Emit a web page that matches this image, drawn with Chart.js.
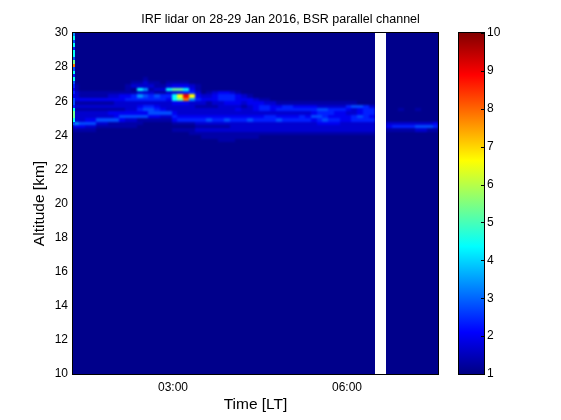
<!DOCTYPE html>
<html>
<head>
<meta charset="utf-8">
<script src="https://cdn.jsdelivr.net/npm/chart.js@4.4.1/dist/chart.umd.min.js"></script>
<style>
  html, body { margin: 0; padding: 0; background: #fff; }
  #wrap { width: 561px; height: 420px; }
</style>
</head>
<body>
<div id="wrap"><canvas id="chart" width="561" height="420"></canvas></div>
<script>
// Time axis (hours LT): one lidar profile every 6 min from 01:16.6
const firstProfile = 1 + 16.6 / 60;
const profileStep = 0.1;
const timeMin = firstProfile;
const timeMax = 7 + 34.1 / 60;
const timeTicks = [3, 6];

// Altitude axis (km)
const altMin = 10;
const altMax = 30;
const altStep = 2;

// Colour scale (BSR)
const bsrMin = 1;
const bsrMax = 10;
const backgroundBsr = 1.1;

// BSR level codes used in the rows below
const levelCodes = ['1', '2', '3', '4', '5', '6', '7', '8', '9', 'o', 'r'];
const levelValues = [1.35, 1.7, 2.0, 2.4, 2.8, 3.4, 4.4, 5.3, 6.6, 7.8, 9.0];

// Layer region: 0.2 km bins from 27.4 km (top row) down to 23.4 km.
// One character per profile, '.' = background, ' ' = no data.
const binTop = 27.4;
const binSize = 0.2;
const bsrRows = [
  "....|....|...|.1..|..|....|...|.....|.....|......|......|......|  |.....|....",
  "....|....|..1|1211|.1|111.|...|.....|.....|......|......|......|  |.....|....",
  "1...|....|.12|2221|12|3332|1..|.....|.....|......|......|......|  |.....|....",
  "1...|....|.1.|7612|27|8873|1..|.....|.....|......|......|......|  |.....|....",
  "2111|1111|111|2221|12|2344|2.1|23321|.....|......|......|......|  |.....|....",
  "2111|1122|334|6545|44|79r9|322|34443|21...|......|......|......|  |.....|....",
  "3333|3333|344|4444|43|78o6|433|34443|33211|......|......|......|  |.....|....",
  "1111|1112|222|2222|22|3332|221|22333|23332|211111|111111|111...|  |.....|....",
  "2222|2222|222|3443|22|2222|111|12222|12344|334433|332222|245542|  |.....|....",
  "1111|1111|122|4554|32|2222|222|22223|22344|344444|445544|432344|  |..1..|1...",
  "2222|2233|333|3355|55|3222|222|22222|22222|222222|234443|322344|  |.....|....",
  "2222|2223|555|5533|22|4333|333|33333|33334|433334|355433|334543|  |.....|....",
  "2233|5555|322|1111|11|3444|445|44544|45444|454444|434544|334444|  |.....|....",
  "6555|2211|111|1...|..|1111|222|22222|22222|222222|223333|222222|  |22222|2223",
  "3322|1111|111|....|..|....|111|11122|22222|222222|222222|222222|  |34444|5554",
  "1111|....|...|....|..|1111|222|22222|22222|222222|222222|222222|  |11111|2211",
  "....|....|...|....|..|...1|111|11111|11111|111111|111111|111111|  |.....|....",
  "....|....|...|....|..|....|.11|11111|111..|......|......|......|  |.....|....",
  "....|....|...|....|..|....|...|.111.|.....|......|......|......|  |.....|....",
  "....|....|...|....|..|....|...|.....|.....|......|......|......|  |.....|....",
].map(r => r.replace(/\|/g, ''));

// First (noisy) profile, 0.2 km bins from 30 km down to 24.6 km
const edgeTop = 30;
const edgeSpan = 0.04;
const edgeRow = "675747758o57475434355478875";

const FONT = '"Liberation Sans", Arial, Helvetica, sans-serif';

function jet(v) {
  const t = Math.min(1, Math.max(0, (v - bsrMin) / (bsrMax - bsrMin)));
  const c = k => Math.round(255 * Math.min(1, Math.max(0, 1.5 - Math.abs(4 * t - k))));
  return `rgb(${c(3)},${c(2)},${c(1)})`;
}

function levelOf(ch) {
  const i = levelCodes.indexOf(ch);
  return i < 0 ? backgroundBsr : levelValues[i];
}

function hhmm(v) {
  const h = Math.floor(v);
  const m = Math.round((v - h) * 60);
  return String(h).padStart(2, '0') + ':' + String(m).padStart(2, '0');
}

// contiguous runs of profiles (split by the data gap)
function profileRuns() {
  const runs = [];
  let start = null;
  for (let i = 0; i <= bsrRows[0].length; i++) {
    const has = i < bsrRows[0].length && bsrRows[0][i] !== ' ';
    if (has && start === null) start = i;
    if (!has && start !== null) { runs.push([start, i]); start = null; }
  }
  return runs;
}

// Draw the profiles as cells through the x / y scales
// (painted off-screen, then softened a little like the original image).
const heatmap = {
  id: 'heatmap',
  beforeDatasetsDraw(chart) {
    const {ctx, chartArea: a, scales: {x, y}} = chart;
    const px = t => Math.round(x.getPixelForValue(t));
    const py = h => Math.round(y.getPixelForValue(h));
    const yTop = py(altMax);
    const yBottom = py(altMin);

    const off = document.createElement('canvas');
    off.width = chart.width;
    off.height = chart.height;
    const oc = off.getContext('2d');

    profileRuns().forEach(([i0, i1]) => {
      const left = Math.max(a.left, px(firstProfile + i0 * profileStep));
      const right = Math.min(a.right, px(firstProfile + i1 * profileStep));

      oc.clearRect(0, 0, off.width, off.height);
      oc.fillStyle = jet(backgroundBsr);
      oc.fillRect(left - 4, yTop - 4, right - left + 8, yBottom - yTop + 8);
      for (let i = i0; i < i1; i++) {
        const t0 = firstProfile + i * profileStep;
        const x0 = px(t0);
        const x1 = px(t0 + profileStep);
        bsrRows.forEach((row, k) => {
          const ch = row[i];
          if (ch === '.' || ch === ' ' || ch === undefined) return;
          const hi = binTop - k * binSize;
          const y0 = py(hi);
          const y1 = py(hi - binSize);
          oc.fillStyle = jet(levelOf(ch));
          oc.fillRect(x0, y0, x1 - x0, y1 - y0);
        });
      }

      ctx.save();
      ctx.beginPath();
      ctx.rect(left, a.top, right - left, a.bottom - a.top);
      ctx.clip();
      ctx.filter = 'blur(0.8px)';
      ctx.drawImage(off, 0, 0);
      ctx.filter = 'none';

      // first profile
      if (i0 === 0) {
        const ex0 = px(firstProfile);
        const ex1 = px(firstProfile + edgeSpan);
        [...edgeRow].forEach((ch, k) => {
          const hi = edgeTop - k * binSize;
          ctx.fillStyle = jet(levelOf(ch));
          ctx.fillRect(ex0, py(hi), ex1 - ex0, py(hi - binSize) - py(hi));
        });
      }
      ctx.restore();
    });
  },
  afterDraw(chart) {
    const {ctx, chartArea: a} = chart;
    ctx.save();
    ctx.strokeStyle = '#000';
    ctx.lineWidth = 1;
    ctx.strokeRect(a.left - 0.5, a.top - 0.5, a.right - a.left + 1, a.bottom - a.top + 1);
    ctx.restore();
  }
};

// Colour bar drawn along the 'cb' scale.
const colorbar = {
  id: 'colorbar',
  afterDraw(chart) {
    const {ctx} = chart;
    const cb = chart.scales.cb;
    const top = Math.round(cb.getPixelForValue(bsrMax)) - 1;
    const bottom = Math.round(cb.getPixelForValue(bsrMin)) + 1;
    const left = Math.round(cb.left) + 20;
    const right = left + 27;

    const grad = ctx.createLinearGradient(0, bottom, 0, top);
    [0, 0.125, 0.375, 0.625, 0.875, 1].forEach(s => {
      grad.addColorStop(s, jet(bsrMin + s * (bsrMax - bsrMin)));
    });
    ctx.save();
    ctx.fillStyle = grad;
    ctx.fillRect(left, top, right - left, bottom - top);
    ctx.strokeStyle = '#000';
    ctx.lineWidth = 1;
    ctx.strokeRect(left + 0.5, top + 0.5, right - left - 1, bottom - top - 1);
    ctx.beginPath();
    cb.ticks.forEach(t => {
      const yy = Math.round(cb.getPixelForValue(t.value)) + 0.5;
      ctx.moveTo(right - 4, yy);
      ctx.lineTo(right, yy);
    });
    ctx.stroke();
    ctx.restore();
  }
};

const tickFont = {family: FONT, size: 12};
const labelFont = {family: FONT, size: 15.5};

new Chart(document.getElementById('chart'), {
  type: 'scatter',
  data: {datasets: [{data: []}]},
  options: {
    responsive: false,
    animation: false,
    layout: {padding: 0},
    plugins: {
      legend: {display: false},
      tooltip: {enabled: false},
      title: {
        display: true,
        text: 'IRF lidar on 28-29 Jan 2016, BSR parallel channel',
        color: '#000',
        font: {family: FONT, size: 12.5, weight: 'normal'},
        padding: {top: 12, bottom: 6}
      }
    },
    scales: {
      x: {
        type: 'linear',
        min: timeMin,
        max: timeMax,
        afterBuildTicks: s => { s.ticks = timeTicks.map(v => ({value: v})); },
        afterFit: s => { s.height = 46; },
        ticks: {callback: v => hhmm(v), color: '#000', font: tickFont, padding: 6, maxRotation: 0, autoSkip: false},
        grid: {display: false, drawTicks: false},
        border: {display: false},
        title: {display: true, text: 'Time [LT]', color: '#000', font: labelFont, padding: {top: 0, bottom: 5.7}}
      },
      y: {
        type: 'linear',
        min: altMin,
        max: altMax,
        afterFit: s => { s.width = 73; },
        ticks: {stepSize: altStep, color: '#000', font: tickFont, padding: 5},
        grid: {display: false, drawTicks: false},
        border: {display: false},
        title: {display: true, text: 'Altitude [km]', color: '#000', font: labelFont, padding: {top: 30.7, bottom: 0}}
      },
      cb: {
        type: 'linear',
        position: 'right',
        min: bsrMin,
        max: bsrMax,
        afterFit: s => { s.width = 123; },
        ticks: {stepSize: 1, color: '#000', font: tickFont, padding: 2},
        grid: {display: false, drawTicks: true, tickLength: 47},
        border: {display: false}
      }
    }
  },
  plugins: [heatmap, colorbar]
});
</script>
</body>
</html>
